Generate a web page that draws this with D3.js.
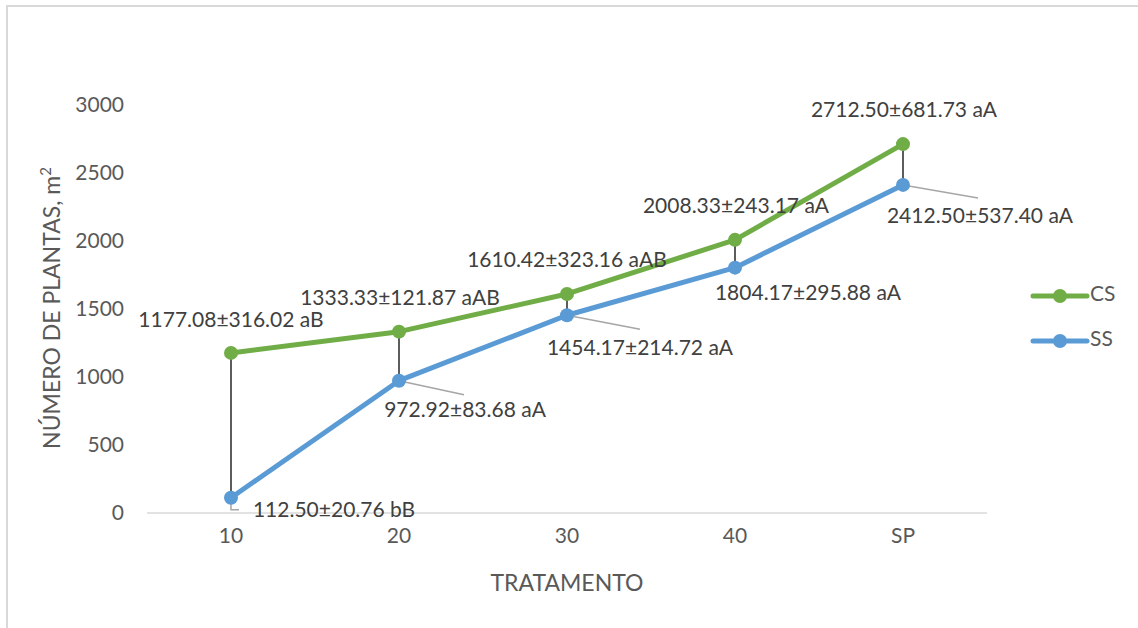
<!DOCTYPE html>
<html><head><meta charset="utf-8">
<script src="https://cdn.jsdelivr.net/npm/d3@7"></script>
<style>body{margin:0;background:#fff;}svg{display:block;font-family:Lato,"Open Sans",sans-serif;}</style>
</head><body><svg id="c" width="1138" height="628"></svg>
<script>
const categories = ["10","20","30","40","SP"];
const csValues = [1177.08, 1333.33, 1610.42, 2008.33, 2712.50];
const ssValues = [112.50, 972.92, 1454.17, 1804.17, 2412.50];
const csLabels = ["1177.08±316.02 aB","1333.33±121.87 aAB","1610.42±323.16 aAB","2008.33±243.17 aA","2712.50±681.73 aA"];
const ssLabels = ["112.50±20.76 bB","972.92±83.68 aA","1454.17±214.72 aA","1804.17±295.88 aA","2412.50±537.40 aA"];
const yTicks = [0,500,1000,1500,2000,2500,3000];
const seriesNames = ["CS","SS"];

const svg = d3.select("#c");
const green = "#70ad47", blue = "#5b9bd5", txt = "#404040", axTxt = "#595959";
const FS = 21;

// frame
svg.append("path").attr("d","M7,628 V6 H1138").attr("fill","none").attr("stroke","#d9d9d9").attr("stroke-width",2);

const x = d3.scaleBand().domain(categories).range([147,987]);
const y = d3.scaleLinear().domain([0,3000]).range([513,105]);
const cx = c => x(c) + x.bandwidth()/2;

// baseline
svg.append("line").attr("x1",147).attr("x2",987).attr("y1",y(0)).attr("y2",y(0)).attr("stroke","#d9d9d9").attr("stroke-width",1.5);

// y axis ticks
const ya = svg.append("g").attr("transform","translate(124,0)").call(d3.axisLeft(y).tickValues(yTicks).tickSize(0).tickPadding(0).tickFormat(d3.format("d")));
ya.select(".domain").remove();
ya.selectAll("text").attr("font-size",FS).attr("fill",axTxt).attr("font-family","Lato, sans-serif");

// x axis
const xa = svg.append("g").attr("transform","translate(0,"+(y(0)+15)+")").call(d3.axisBottom(x).tickSize(0).tickPadding(0));
xa.select(".domain").remove();
xa.selectAll("text").attr("font-size",FS).attr("fill",axTxt).attr("dy","0.71em").attr("font-family","Lato, sans-serif");

// axis titles
svg.append("text").attr("x",567).attr("y",591).attr("text-anchor","middle").attr("font-size",23).attr("fill",axTxt).text("TRATAMENTO");
const yt = svg.append("text").attr("transform","translate(60,308) rotate(-90)").attr("text-anchor","middle").attr("font-size",23).attr("fill",axTxt);
yt.append("tspan").text("NÚMERO DE PLANTAS, m");
yt.append("tspan").attr("font-size",15).attr("dy",-9).text("2");

// high-low lines
categories.forEach((c,i)=>{
  svg.append("line").attr("x1",cx(c)).attr("x2",cx(c)).attr("y1",y(csValues[i])).attr("y2",y(ssValues[i])).attr("stroke","#262626").attr("stroke-width",1.5);
});

// leader lines for SS labels
const leaders = [[[0,0],[0,12],[8,12]],[[0,0],[65,14]],[[0,0],[73,14]],null,[[0,0],[75,13]]];
categories.forEach((c,i)=>{
  if(!leaders[i]) return;
  const px = cx(c), py = y(ssValues[i]);
  svg.append("path").attr("d", d3.line()(leaders[i].map(p=>[px+p[0], py+p[1]]))).attr("fill","none").attr("stroke","#a6a6a6").attr("stroke-width",1.5);
});

const line = d3.line().x((d,i)=>cx(categories[i])).y(d=>y(d));
[[ssValues,blue],[csValues,green]].forEach(([vals,col])=>{
  svg.append("path").datum(vals).attr("d",line).attr("fill","none").attr("stroke",col).attr("stroke-width",5).attr("stroke-linejoin","round");
  svg.selectAll(null).data(vals).enter().append("circle").attr("cx",(d,i)=>cx(categories[i])).attr("cy",d=>y(d)).attr("r",7).attr("fill",col);
});

// labels (offsets relative to point)
const csOff = [[0,-31],[1,-32],[0,-32],[1,-32],[1,-32]];
const ssOff = [[103,14],[66,31],[73,34],[73,27],[77,33]];
categories.forEach((c,i)=>{
  svg.append("text").attr("x",cx(c)+csOff[i][0]).attr("y",y(csValues[i])+csOff[i][1]).attr("text-anchor","middle").attr("dominant-baseline","middle").attr("font-size",FS).attr("fill",txt).text(csLabels[i]);
  svg.append("text").attr("x",cx(c)+ssOff[i][0]).attr("y",y(ssValues[i])+ssOff[i][1]).attr("text-anchor","middle").attr("dominant-baseline","middle").attr("font-size",FS).attr("fill",txt).text(ssLabels[i]);
});

// legend
[[green,296],[blue,341]].forEach(([col,ly],i)=>{
  svg.append("line").attr("x1",1033).attr("x2",1087).attr("y1",ly).attr("y2",ly).attr("stroke",col).attr("stroke-width",5).attr("stroke-linecap","round");
  svg.append("circle").attr("cx",1060).attr("cy",ly).attr("r",7).attr("fill",col);
  svg.append("text").attr("x",1090).attr("y",ly).attr("dominant-baseline","middle").attr("font-size",FS).attr("fill",axTxt).text(seriesNames[i]);
});
</script></body></html>
